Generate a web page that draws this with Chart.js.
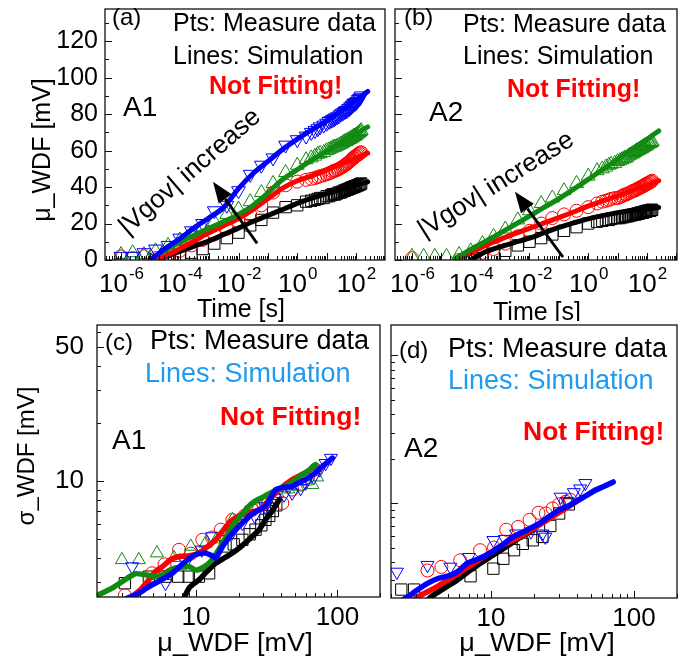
<!DOCTYPE html>
<html>
<head>
<meta charset="utf-8">
<script src="https://cdn.jsdelivr.net/npm/chart.js@4.4.1/dist/chart.umd.min.js"></script>
<style>
html, body { margin: 0; padding: 0; background: #fff; }
#wrap { position: relative; width: 686px; height: 659px; overflow: hidden; background: #fff; }
#wrap canvas { position: absolute; left: 0; top: 0; }
</style>
</head>
<body>
<div id="wrap">
  <canvas id="pa" width="686" height="659"></canvas>
  <canvas id="pb" width="686" height="659"></canvas>
  <canvas id="pc" width="686" height="659"></canvas>
  <canvas id="pd" width="686" height="659"></canvas>
</div>
<script>
// ---------- colours / font ----------
const FONT = '"Liberation Sans", Arial, sans-serif';
const BLACK = '#000000', RED = '#ff0000', GREEN = '#108a10', BLUE = '#0000ff', SKY = '#1e9bf0';

// ---------- (a),(b) time axis data ----------
// measurement times [s]: log spaced early part, then 1 s .. 150 s
const tEarly = [1e-6, 2.5e-6, 6e-6, 1.5e-5, 4e-5, 1e-4, 2.5e-4, 6e-4, 1.5e-3, 4e-3,
  1e-2, 2.5e-2, 6e-2, 0.15, 0.4];
const tLate = [1, 2, 3, 4, 5, 6, 8, 10, 12, 14, 16, 18, 20, 23, 26, 30, 34, 38, 42, 46,
  50, 55, 60, 65, 70, 75, 80, 85, 90, 95, 100, 110, 120, 130, 140, 150];
const tMeas = tEarly.concat(tLate);
// simulation times [s]
const tSim = [1e-5, 3e-5, 1e-4, 3e-4, 1e-3, 3e-3, 1e-2, 3e-2, 0.1, 0.3, 1, 3, 10, 30, 100, 250];

// (a) A1, measured mu_WDF [mV]
const aBlackEarly = [null, null, null, 0, 1, 2, 4, 6, 9, 12, 15, 19, 22, 26, 29];
const aBlackLate = [30, 32, 32.5, 33, 33.5, 34, 34, 35, 35, 35.5, 36, 36, 36, 36.5, 37, 37, 37.5, 38, 38, 38.5,
  38.5, 39, 39, 39.5, 39.5, 40, 40, 40, 40.5, 40.5, 40.5, 41, 41, 41.5, 41.5, 42];
const aRedEarly = [2, 1, 2, 1, 3, 5, 8, 11, 14, 17, 21, 25, 30, 37, 41];
const aRedLate = [43, 44, 44.5, 45, 45.5, 46, 46.5, 47, 47.5, 48, 48.5, 49, 49, 49.5, 50, 50.5, 51, 51.5, 52, 52.5,
  53, 53.5, 54, 54.5, 55, 55.5, 56, 56, 56.5, 57, 57, 57.5, 58, 58.5, 59, 59];
const aGreenEarly = [3, 4, 3, 5, 8, 11, 14, 18, 21, 25, 28, 32, 37, 42, 48];
const aGreenLate = [52, 55, 56, 57, 58, 58.5, 59, 60, 60.5, 61, 61.5, 62, 62, 62.5, 63, 63.5, 64, 64.5, 65, 65,
  65.5, 66, 66, 66.5, 67, 67, 67.5, 68, 68, 68, 68.5, 69, 69.5, 70, 70.5, 71];
const aBlueEarly = [2, 2, 4, 6, 8, 12, 16, 20, 27, 30, 38, 47, 52, 56, 63];
const aBlueLate = [66, 68, 70, 71, 72, 73, 74, 75, 76, 76.5, 77, 77.5, 78, 78.5, 79, 80, 80.5, 81, 81.5, 82,
  82, 83, 83, 84, 84, 85, 85, 86, 86, 86, 86.5, 87, 88, 88.5, 89, 90];
// (a) simulation
const aBlackSim = [0, 1.5, 4.7, 7.5, 10.5, 13.9, 17.5, 21, 24.4, 27.6, 31.1, 33.8, 36.4, 38.6, 40.9, 42.9];
const aRedSim = [0, 2, 6.2, 10.3, 15, 18.7, 22.8, 27.5, 33.6, 39.2, 43.5, 46, 49.4, 52.5, 55.9, 58.6];
const aGreenSim = [0, 5, 9.7, 13.5, 17.5, 20.9, 25, 29.8, 36.8, 43.9, 49.6, 54.7, 59.7, 64.3, 69.3, 73];
const aBlueSim = [0, 6, 11.7, 17.5, 23.2, 28.6, 39.2, 47.2, 54.1, 60.4, 66.3, 71.2, 76.3, 81.6, 87.7, 92.5];

// (b) A2, measured
const bBlackEarly = [null, null, null, null, null, 0, 1, 3, 5, 8, 10, 12, 14, 16, 18];
const bBlackLate = [20, 21, 21.5, 22, 22, 22.5, 23, 23, 23, 23.5, 23.5, 24, 24, 24, 24.5, 24.5, 25, 25, 25, 25.5,
  25.5, 25.5, 26, 26, 26, 26, 26.5, 26.5, 26.5, 26.5, 27, 27, 27, 27, 27.5, 27.5];
const bRedEarly = [1, null, null, null, 0, 2, 4, 6, 9, 13, 16, 20, 23, 25, 27];
const bRedLate = [29, 31, 32, 32.5, 33, 33.5, 34, 34, 34.5, 35, 35.5, 36, 36, 36.5, 37, 37.5, 38, 38, 38.5, 39,
  39, 39.5, 40, 40, 40.5, 40.5, 41, 41, 41.5, 41.5, 42, 42, 42.5, 43, 43, 43.5];
const bGreenEarly = [2, 2, 2, 2, 3, 5, 9, 13, 17, 22, 27, 31, 34, 38, 42];
const bGreenLate = [46, 49, 50, 51, 52, 52.5, 53, 54, 54.5, 55, 55.5, 56, 56, 57, 57.5, 58, 58.5, 59, 59.5, 60,
  60, 60.5, 61, 61, 61.5, 62, 62, 62.5, 62.5, 63, 63, 63.5, 64, 64, 64.5, 65];
// (b) simulation
const bBlackSim = [null, null, 0, 4.3, 7.2, 9.5, 12, 14.8, 17.9, 20.2, 22.6, 24.3, 26, 27.2, 28.1, 28.8];
const bRedSim = [null, 0, 3.7, 7.8, 11.3, 14.3, 17.4, 20.2, 23.3, 26.2, 29.6, 32.3, 35.2, 38, 41.1, 43.5];
const bGreenSim = [null, 0.8, 5.8, 10, 14.7, 19.2, 24.1, 28.7, 33.6, 38.6, 44.2, 49.5, 55.2, 60.6, 66.3, 70.8];

// ---------- (c) A1 sigma vs mu ----------
const cBlackMu = [3.15, 4.65, 6.1, 7.5, 8.9, 10.5, 12.4, 16.2, 18.5, 21.3, 24, 26.4, 29, 31, 33, 35, 37];
const cBlackSig = [2.95, 3.19, 3.19, 3.19, 3.19, 3.19, 3.32, 4.58, 4.7, 4.96, 5.3, 5.6, 5.9, 6.3, 6.6, 7.0, 7.5];
const cRedMu = [3.15, 4.9, 6.0, 7.6, 9.2, 11.1, 13, 15, 18.1, 22, 25, 30, 36, 40.8, 47.9, 55, 62, 70];
const cRedSig = [2.55, 3.32, 3.7, 4.4, 4.2, 4.96, 5.1, 5.6, 6.3, 6.6, 7.1, 7.6, 8.3, 7.7, 9.05, 9.6, 10.5, 11.5];
const cGreenMu = [3.0, 3.95, 5.3, 7.0, 9.2, 11.7, 14, 18.1, 22.5, 27, 32, 38, 45, 52, 60, 66.6, 72];
const cGreenSig = [3.9, 3.9, 4.23, 4.0, 4.58, 4.75, 5.0, 6.3, 6.85, 7.3, 8.0, 8.6, 9.1, 9.4, 10.0, 9.6, 10.5];
const cBlueMu = [3.54, 6.1, 8.5, 11, 13, 15.5, 18, 21.3, 26, 31, 36, 42, 47.9, 55, 59.6, 68, 75, 82.5, 90];
const cBlueSig = [3.6, 2.95, 3.8, 4.4, 5.16, 5.0, 5.4, 6.06, 6.6, 7.4, 8.2, 8.5, 8.7, 9.2, 9.8, 10.5, 11.5, 12.4, 13.2];
// simulation
const cBlackLineMu = [8.2, 9, 10.5, 12, 13.8, 16, 18.1, 21, 25, 28, 31, 35, 38.7];
const cBlackLineSig = [2.45, 2.8, 3.07, 3.4, 3.75, 4.0, 4.23, 4.6, 5.16, 5.6, 6.3, 7.1, 8.0];
const cRedLineMu = [3.4, 4.0, 4.65, 5.2, 5.8, 6.6, 7.6, 9, 10.5, 12, 13.8, 16, 18.1, 22, 27.9, 33, 38.7, 48, 59.6, 70];
const cRedLineSig = [2.45, 2.7, 3.07, 3.4, 3.6, 3.9, 4.06, 4.1, 4.23, 4.55, 4.96, 5.7, 6.3, 6.8, 7.1, 8.0, 9.05, 10.2, 11.1, 12.0];
const cGreenLineMu = [1.9, 2.6, 3.7, 4.5, 5.5, 6.8, 8.9, 10, 11.5, 13, 15, 18, 21, 25, 30, 37, 45, 54, 62, 70];
const cGreenLineSig = [2.5, 2.8, 3.3, 3.25, 3.2, 3.5, 3.6, 3.45, 3.6, 3.9, 4.6, 5.8, 6.7, 7.7, 8.3, 9.0, 9.6, 10.6, 11.3, 12.2];
const cBlueLineMu = [3.2, 3.9, 4.65, 5.6, 6.8, 8, 9.4, 10.5, 11.7, 13, 13.8, 15.5, 18.1, 21, 23.7, 27, 31, 34,
  36.6, 42, 47.9, 53, 59.6, 67, 74.2, 82, 92];
const cBlueLineSig = [2.45, 2.6, 2.83, 3.05, 3.32, 3.7, 4.06, 4.2, 4.23, 4.1, 3.98, 4.6, 5.37, 6.0, 6.57, 7.0, 7.4, 8.3,
  9.05, 9.3, 9.4, 9.8, 10.2, 10.8, 11.5, 12.3, 13.2];

// ---------- (d) A2 sigma vs mu ----------
const dBlackMu = [2.36, 2.9, 7.2, 10.4, 12.2, 14.5, 16.7, 19.6, 22.9, 26, 30, 35];
const dBlackSig = [2.6, 2.6, 3.2, 3.6, 4.2, 4.8, 5.3, 5.6, 5.9, 7.0, 8.5, 9.8];
const dRedMu = [3.6, 4.5, 6.1, 8.4, 10.5, 12.8, 15.5, 18.6, 21.5, 24.2, 27, 30, 33.3, 36];
const dRedSig = [3.5, 3.7, 4.1, 4.8, 5.0, 6.6, 6.9, 7.7, 8.6, 8.5, 9.2, 9.8, 10.2, 10.5];
const dBlueMu = [2.2, 3.6, 5.2, 7.0, 10.4, 12.5, 15, 19, 22.9, 24, 30.7, 34, 38, 42, 45.7];
const dBlueSig = [3.42, 3.8, 3.7, 4.3, 5.6, 5.7, 6.2, 6.4, 6.2, 5.9, 11.0, 10.3, 11.8, 12.5, 13.6];
const dBlackLineMu = [3.5, 3.8, 4.7, 5.8, 7.0, 8.4, 10.4, 12.8, 15.8, 19.6];
const dBlackLineSig = [2.15, 2.32, 2.65, 3.01, 3.45, 3.91, 4.45, 5.07, 5.8, 6.56];
const dRedLineMu = [2.8, 3.07, 4.0, 4.95, 6.1, 7.55, 9.3, 11.5, 14.2, 17.6, 21.8, 26.9, 33.3, 41.1];
const dRedLineSig = [2.15, 2.32, 2.65, 3.01, 3.4, 3.91, 4.45, 5.07, 5.6, 6.23, 7.1, 8.08, 9.2, 10.5];
const dBlueLineMu = [2.4, 2.62, 3.0, 3.6, 4.3, 5.2, 6.0, 6.8, 8.2, 9.8, 12, 14.25, 17.5, 21.8, 25.5, 29.9,
  35, 41.1, 47, 53.5, 62, 71.6];
const dBlueLineSig = [2.2, 2.32, 2.55, 2.86, 3.1, 3.25, 3.5, 3.91, 4.2, 4.56, 5.2, 5.9, 6.5, 7.28, 8.1, 8.97,
  9.6, 10.5, 11.3, 12.2, 13.0, 13.9];

// ---------- helpers ----------
function pts(xs, ys) { return xs.map((x, i) => ({ x: x, y: ys[i] })); }

function markers(data, color, style, r, rot) {
  return { data: data, showLine: false, pointStyle: style, pointRadius: r, pointRotation: rot || 0,
    pointBorderColor: color, pointBackgroundColor: 'rgba(0,0,0,0)', pointBorderWidth: 1, order: 1 };
}
function simLine(data, color, w, tension) {
  return { data: data, showLine: true, borderColor: color, borderWidth: w, pointRadius: 0,
    tension: tension, borderCapStyle: 'round', borderJoinStyle: 'round', spanGaps: false, order: 0 };
}

function txt(ctx, s, x, y, size, opt) {
  opt = opt || {};
  ctx.save();
  ctx.translate(x, y);
  if (opt.rot) ctx.rotate(opt.rot);
  ctx.scale(opt.sx || 1, 1);
  ctx.font = (opt.bold ? 'bold ' : '') + size + 'px ' + FONT;
  ctx.fillStyle = opt.color || '#000';
  ctx.textAlign = opt.align || 'left';
  ctx.textBaseline = 'middle';
  ctx.fillText(s, 0, 0);
  ctx.restore();
}

// "10" with superscript exponent, centred on cx
function powLabel(ctx, exp, cx, cy) {
  ctx.save();
  ctx.fillStyle = '#000';
  ctx.textBaseline = 'alphabetic';
  ctx.font = '26px ' + FONT;
  const w1 = ctx.measureText('10').width;
  ctx.font = '17px ' + FONT;
  const w2 = ctx.measureText(String(exp)).width;
  const x0 = cx - (w1 + w2) / 2;
  ctx.font = '26px ' + FONT;
  ctx.fillText('10', x0, cy + 10);
  ctx.font = '17px ' + FONT;
  ctx.fillText(String(exp), x0 + w1 + 1, cy - 3);
  ctx.restore();
}

function frame(ctx, a) {
  ctx.save();
  ctx.strokeStyle = '#111';
  ctx.lineWidth = 1.3;
  ctx.strokeRect(a.left, a.top, a.right - a.left, a.bottom - a.top);
  ctx.restore();
}

function tick(ctx, x1, y1, x2, y2) {
  ctx.beginPath(); ctx.moveTo(x1, y1); ctx.lineTo(x2, y2); ctx.stroke();
}

// inward log ticks on the bottom axis
function logTicksX(ctx, sc, a) {
  ctx.save(); ctx.strokeStyle = '#111'; ctx.lineWidth = 1;
  const lo = Math.floor(Math.log10(sc.min)), hi = Math.ceil(Math.log10(sc.max));
  for (let d = lo; d <= hi; d++) {
    for (let k = 1; k <= 9; k++) {
      const v = k * Math.pow(10, d);
      if (v < sc.min || v > sc.max) continue;
      const px = Math.round(sc.getPixelForValue(v)) + 0.5;
      tick(ctx, px, a.bottom, px, a.bottom - (k === 1 ? 7 : 4));
    }
  }
  ctx.restore();
}
// inward log ticks on the left axis, majors listed
function logTicksY(ctx, sc, a, majors) {
  ctx.save(); ctx.strokeStyle = '#111'; ctx.lineWidth = 1;
  const lo = Math.floor(Math.log10(sc.min)), hi = Math.ceil(Math.log10(sc.max));
  for (let d = lo; d <= hi; d++) {
    for (let k = 1; k <= 9; k++) {
      const v = k * Math.pow(10, d);
      if (v < sc.min || v > sc.max) continue;
      const py = Math.round(sc.getPixelForValue(v)) + 0.5;
      const major = majors.some(m => Math.abs(m - v) < 1e-9);
      tick(ctx, a.left, py, a.left + (major ? 7 : 4), py);
    }
  }
  ctx.restore();
}
function linTicksY(ctx, sc, a, step, majorEvery) {
  ctx.save(); ctx.strokeStyle = '#111'; ctx.lineWidth = 1;
  for (let v = 0; v <= sc.max; v += step) {
    const py = Math.round(sc.getPixelForValue(v)) + 0.5;
    const major = Math.round(v / step) % majorEvery === 0;
    tick(ctx, a.left, py, a.left + (major ? 7 : 4), py);
  }
  ctx.restore();
}

function arrow(ctx, xs, ys, t1, v1, t2, v2) {
  const x1 = xs.getPixelForValue(t1), y1 = ys.getPixelForValue(v1);
  const x2 = xs.getPixelForValue(t2), y2 = ys.getPixelForValue(v2);
  const ang = Math.atan2(y2 - y1, x2 - x1), L = 21, hw = 8;
  const bx = x2 - L * Math.cos(ang), by = y2 - L * Math.sin(ang);
  ctx.save();
  ctx.strokeStyle = '#000'; ctx.fillStyle = '#000'; ctx.lineWidth = 2.8;
  ctx.beginPath(); ctx.moveTo(x1, y1); ctx.lineTo(bx, by); ctx.stroke();
  ctx.beginPath();
  ctx.moveTo(x2, y2);
  ctx.lineTo(bx + hw * Math.sin(ang), by - hw * Math.cos(ang));
  ctx.lineTo(bx - hw * Math.sin(ang), by + hw * Math.cos(ang));
  ctx.closePath(); ctx.fill();
  ctx.restore();
}

function makeChart(id, box, xOpt, yOpt, datasets, draw) {
  const W = 686, H = 659;
  return new Chart(document.getElementById(id), {
    type: 'scatter',
    data: { datasets: datasets },
    options: {
      responsive: false, animation: false, events: [],
      layout: { padding: { left: box[0], top: box[1], right: W - box[2], bottom: H - box[3] } },
      plugins: { legend: { display: false }, tooltip: { enabled: false } },
      scales: {
        x: Object.assign({ display: false }, xOpt),
        y: Object.assign({ display: false }, yOpt)
      }
    },
    plugins: [{ id: 'decor' + id, afterDraw: draw }]
  });
}

// ---------- panel (a) ----------
makeChart('pa', [105, 3, 385, 260],
  { type: 'logarithmic', min: 2.85e-7, max: 970 },
  { type: 'linear', min: 0, max: 137.7 },
  [
    simLine(pts(tSim, aBlueSim), BLUE, 5, 0.3),
    simLine(pts(tSim, aGreenSim), GREEN, 5, 0.3),
    simLine(pts(tSim, aRedSim), RED, 5, 0.3),
    simLine(pts(tSim, aBlackSim), BLACK, 5, 0.3),
    markers(pts(tMeas, aBlueEarly.concat(aBlueLate)), BLUE, 'triangle', 8, 180),
    markers(pts(tMeas, aGreenEarly.concat(aGreenLate)), GREEN, 'triangle', 8, 0),
    markers(pts(tMeas, aRedEarly.concat(aRedLate)), RED, 'circle', 6.5),
    markers(pts(tMeas, aBlackEarly.concat(aBlackLate)), BLACK, 'rect', 8)
  ],
  function (chart) {
    const ctx = chart.ctx, a = chart.chartArea, xs = chart.scales.x, ys = chart.scales.y;
    frame(ctx, a);
    logTicksX(ctx, xs, a);
    linTicksY(ctx, ys, a, 10, 2);
    for (let v = 0; v <= 120; v += 20) txt(ctx, String(v), a.left - 7, ys.getPixelForValue(v), 25, { align: 'right' });
    [-6, -4, -2, 0, 2].forEach(e => powLabel(ctx, e, xs.getPixelForValue(Math.pow(10, e)), a.bottom + 22));
    txt(ctx, 'Time [s]', 241, 310, 25, { align: 'center' });
    txt(ctx, '\u03bc_WDF [mV]', 43, 150, 25, { align: 'center', rot: -Math.PI / 2 });
    txt(ctx, '(a)', 112, 18, 24, {});
    txt(ctx, 'Pts: Measure data', 173, 24, 25, {});
    txt(ctx, 'Lines: Simulation', 173, 57, 25, {});
    txt(ctx, 'Not Fitting!', 209, 87, 25, { bold: true, color: RED });
    txt(ctx, 'A1', 123, 108, 28, {});
    txt(ctx, '|Vgov| increase', 190, 172, 26, { align: 'center', rot: -41 * Math.PI / 180 });
    arrow(ctx, xs, ys, 0.043, 9.1, 1.35e-3, 42.9);
  });

// ---------- panel (b) ----------
makeChart('pb', [395, 3, 677, 260],
  { type: 'logarithmic', min: 2.64e-7, max: 1050 },
  { type: 'linear', min: 0, max: 137.7 },
  [
    simLine(pts(tSim, bGreenSim), GREEN, 5, 0.3),
    simLine(pts(tSim, bRedSim), RED, 5, 0.3),
    simLine(pts(tSim, bBlackSim), BLACK, 5, 0.3),
    markers(pts(tMeas, bGreenEarly.concat(bGreenLate)), GREEN, 'triangle', 8, 0),
    markers(pts(tMeas, bRedEarly.concat(bRedLate)), RED, 'circle', 6.5),
    markers(pts(tMeas, bBlackEarly.concat(bBlackLate)), BLACK, 'rect', 8)
  ],
  function (chart) {
    const ctx = chart.ctx, a = chart.chartArea, xs = chart.scales.x, ys = chart.scales.y;
    frame(ctx, a);
    logTicksX(ctx, xs, a);
    linTicksY(ctx, ys, a, 10, 2);
    [-6, -4, -2, 0, 2].forEach(e => powLabel(ctx, e, xs.getPixelForValue(Math.pow(10, e)), a.bottom + 22));
    ctx.save(); ctx.beginPath(); ctx.rect(380, 0, 306, 321); ctx.clip();
    txt(ctx, 'Time [s]', 537, 313, 25, { align: 'center' });
    ctx.restore();
    txt(ctx, '(b)', 404, 18, 24, {});
    txt(ctx, 'Pts: Measure data', 463, 25, 25, {});
    txt(ctx, 'Lines: Simulation', 463, 57, 25, {});
    txt(ctx, 'Not Fitting!', 507, 90, 25, { bold: true, color: RED });
    txt(ctx, 'A2', 429, 113, 28, {});
    txt(ctx, '|Vgov| increase', 496, 185, 26, { align: 'center', rot: -32 * Math.PI / 180 });
    arrow(ctx, xs, ys, 0.138, 1.6, 3.2e-3, 37.5);
  });

// ---------- panel (c) ----------
makeChart('pc', [97, 325, 380, 597],
  { type: 'logarithmic', min: 2, max: 200 },
  { type: 'logarithmic', min: 2.5, max: 65 },
  [
    simLine(pts(cBlueLineMu, cBlueLineSig), BLUE, 5.5, 0.2),
    simLine(pts(cGreenLineMu, cGreenLineSig), GREEN, 5.5, 0.2),
    simLine(pts(cRedLineMu, cRedLineSig), RED, 5.5, 0.2),
    simLine(pts(cBlackLineMu, cBlackLineSig), BLACK, 5.5, 0.2),
    markers(pts(cBlueMu, cBlueSig), BLUE, 'triangle', 7.5, 180),
    markers(pts(cGreenMu, cGreenSig), GREEN, 'triangle', 7.5, 0),
    markers(pts(cRedMu, cRedSig), RED, 'circle', 6.5),
    markers(pts(cBlackMu, cBlackSig), BLACK, 'rect', 8)
  ],
  function (chart) {
    const ctx = chart.ctx, a = chart.chartArea, xs = chart.scales.x, ys = chart.scales.y;
    frame(ctx, a);
    logTicksX(ctx, xs, a);
    logTicksY(ctx, ys, a, [10, 50]);
    [10, 100].forEach(v => txt(ctx, String(v), xs.getPixelForValue(v), a.bottom + 21, 26, { align: 'center' }));
    [10, 50].forEach(v => txt(ctx, String(v), a.left - 13, ys.getPixelForValue(v), 26, { align: 'right' }));
    txt(ctx, '\u03bc_WDF [mV]', 235, 644, 26, { align: 'center', sx: 1.04 });
    txt(ctx, '\u03c3_WDF [mV]', 27, 456, 24, { align: 'center', rot: -Math.PI / 2 });
    txt(ctx, '(c)', 105, 343, 24, {});
    txt(ctx, 'Pts: Measure data', 150, 342, 27, {});
    txt(ctx, 'Lines: Simulation', 145, 375, 27, { color: SKY });
    txt(ctx, 'Not Fitting!', 220, 418, 26.5, { bold: true, color: RED });
    txt(ctx, 'A1', 112, 441, 28, {});
  });

// ---------- panel (d) ----------
makeChart('pd', [391, 325, 678, 598],
  { type: 'logarithmic', min: 2, max: 200 },
  { type: 'logarithmic', min: 2.28, max: 160 },
  [
    simLine(pts(dBlueLineMu, dBlueLineSig), BLUE, 5.5, 0.2),
    simLine(pts(dRedLineMu, dRedLineSig), RED, 5.5, 0.2),
    simLine(pts(dBlackLineMu, dBlackLineSig), BLACK, 5.5, 0.2),
    markers(pts(dBlueMu, dBlueSig), BLUE, 'triangle', 7.5, 180),
    markers(pts(dRedMu, dRedSig), RED, 'circle', 6.5),
    markers(pts(dBlackMu, dBlackSig), BLACK, 'rect', 8)
  ],
  function (chart) {
    const ctx = chart.ctx, a = chart.chartArea, xs = chart.scales.x, ys = chart.scales.y;
    frame(ctx, a);
    logTicksX(ctx, xs, a);
    logTicksY(ctx, ys, a, [10, 100]);
    [10, 100].forEach(v => txt(ctx, String(v), xs.getPixelForValue(v), a.bottom + 21, 26, { align: 'center' }));
    txt(ctx, '\u03bc_WDF [mV]', 537, 644, 26, { align: 'center', sx: 1.04 });
    txt(ctx, '(d)', 399, 351, 24, {});
    txt(ctx, 'Pts: Measure data', 448, 350, 27, {});
    txt(ctx, 'Lines: Simulation', 448, 382, 27, { color: SKY });
    txt(ctx, 'Not Fitting!', 523, 433, 26.5, { bold: true, color: RED });
    txt(ctx, 'A2', 404, 449, 28, {});
  });
</script>
</body>
</html>
